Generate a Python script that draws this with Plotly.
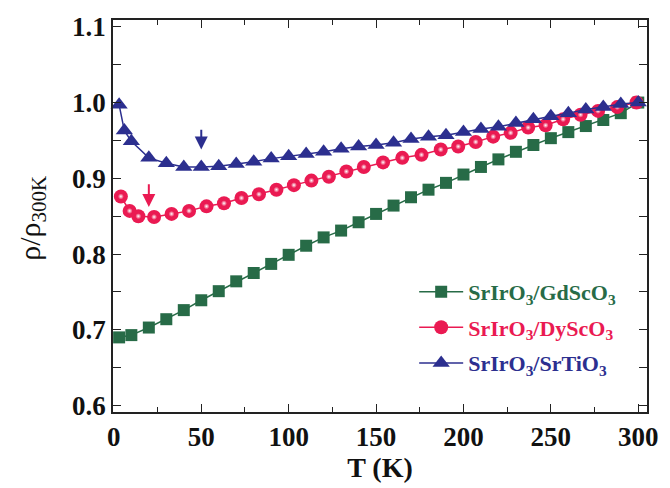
import plotly.graph_objects as go

# ---- data ----
T_gd = [3, 10, 20, 30, 40, 50, 60, 70, 80, 90, 100, 110, 120, 130, 140, 150,
        160, 170, 180, 190, 200, 210, 220, 230, 240, 250, 260, 270, 280, 290, 300]
rho_gd = [0.690, 0.693, 0.703, 0.714, 0.726, 0.739, 0.751, 0.764, 0.775, 0.787,
          0.799, 0.811, 0.822, 0.831, 0.842, 0.853, 0.864, 0.875, 0.885, 0.894,
          0.905, 0.915, 0.925, 0.935, 0.944, 0.953, 0.961, 0.969, 0.977, 0.986, 1.000]

T_dy = [4, 9, 14, 23, 33, 43, 53, 63, 73, 83, 93, 103, 113, 123, 133, 143, 154,
        165, 176, 187, 197, 207, 217, 227, 237, 247, 257, 267, 277, 288, 299]
rho_dy = [0.876, 0.857, 0.850, 0.849, 0.853, 0.857, 0.863, 0.867, 0.874, 0.879,
          0.885, 0.891, 0.897, 0.902, 0.909, 0.915, 0.921, 0.927, 0.931, 0.938,
          0.942, 0.948, 0.955, 0.960, 0.967, 0.970, 0.978, 0.984, 0.989, 0.994, 1.000]

T_st = [3, 6, 10, 20, 30, 40, 50, 60, 70, 80, 90, 100, 110, 120, 130, 140, 150,
        160, 170, 180, 190, 200, 210, 220, 230, 240, 250, 260, 270, 280, 290, 300]
rho_st = [0.997, 0.963, 0.949, 0.927, 0.920, 0.915, 0.915, 0.916, 0.919, 0.922,
          0.926, 0.929, 0.932, 0.935, 0.939, 0.942, 0.944, 0.947, 0.952, 0.955,
          0.957, 0.961, 0.965, 0.968, 0.973, 0.978, 0.982, 0.986, 0.991, 0.994,
          0.998, 1.000]

names = ["SrIrO<sub>3</sub>/GdScO<sub>3</sub>",
         "SrIrO<sub>3</sub>/DyScO<sub>3</sub>",
         "SrIrO<sub>3</sub>/SrTiO<sub>3</sub>"]

# arrows marking the resistivity minima
arrow_T = [50, 20]
arrow_tail = [0.966, 0.894]
arrow_tip = [0.938, 0.862]

x_ticks = [0, 50, 100, 150, 200, 250, 300]
y_ticks = [0.6, 0.7, 0.8, 0.9, 1.0, 1.1]
y_ticklabels = ["0.6", "0.7", "0.8", "0.9", "1.0", "1.1"]

GREEN = "#276b47"
RED = "#ea1a52"
BLUE = "#2c2f8f"

fig = go.Figure()

fig.add_trace(go.Scatter(
    x=T_gd, y=rho_gd, mode="lines+markers", cliponaxis=False,
    name=f'<span style="color:{GREEN}">{names[0]}</span>',
    line=dict(color=GREEN, width=1.5),
    marker=dict(symbol="square", size=12, color=GREEN, line=dict(width=0)),
    legendgroup="a"))

fig.add_trace(go.Scatter(
    x=T_dy, y=rho_dy, mode="lines+markers", cliponaxis=False,
    name=f'<span style="color:{RED}">{names[1]}</span>',
    line=dict(color=RED, width=1.5),
    marker=dict(symbol="circle", size=14, color=RED, line=dict(width=0)),
    legendgroup="b"))
# sphere highlight
fig.add_trace(go.Scatter(
    x=T_dy, y=rho_dy, mode="markers", cliponaxis=False, showlegend=False,
    hoverinfo="skip",
    marker=dict(symbol="circle", size=6, color=RED, line=dict(width=0),
                gradient=dict(type="radial", color="#ffffff")),
    legendgroup="b"))

fig.add_trace(go.Scatter(
    x=T_st, y=rho_st, mode="lines+markers", cliponaxis=False,
    name=f'<span style="color:{BLUE}">{names[2]}</span>',
    line=dict(color=BLUE, width=1.5),
    marker=dict(symbol="triangle-up", size=15, color=BLUE, line=dict(width=0)),
    legendgroup="c"))

arrow_colors = [BLUE, RED]
for t, tail, tip, c in zip(arrow_T, arrow_tail, arrow_tip, arrow_colors):
    fig.add_annotation(x=t, y=tip, ax=t, ay=tail, xref="x", yref="y",
                       axref="x", ayref="y", text="", showarrow=True,
                       arrowhead=2, arrowsize=1.3, arrowwidth=2, arrowcolor=c)

fig.add_annotation(text="ρ/ρ<sub>300K</sub>", textangle=-90, xref="paper", yref="paper",
                   x=-0.152, y=0.495, xanchor="center", yanchor="middle", showarrow=False,
                   font=dict(family="Liberation Serif", size=30, color="#111"))

axis_common = dict(
    showline=True, linecolor="#222", linewidth=1.5, mirror="allticks",
    ticks="inside", ticklen=8, tickwidth=1.3, tickcolor="#222",
    showgrid=False, zeroline=False, ticklabeloverflow="allow",
    tickfont=dict(family="Liberation Serif", size=27, color="#111", weight="bold"),
)

fig.update_xaxes(range=[-0.5, 305], tickvals=x_ticks,
                 minor=dict(ticks="inside", ticklen=5, tickwidth=1.3, tickcolor="#222", dtick=25, tick0=0),
                 title=dict(text="T (K)", standoff=4,
                            font=dict(family="Liberation Serif", size=28, color="#111", weight="bold")),
                 **axis_common)
fig.update_yaxes(range=[0.5915, 1.109], tickvals=y_ticks, ticktext=y_ticklabels,
                 minor=dict(ticks="inside", ticklen=8, tickwidth=1.3, tickcolor="#222", dtick=0.05, tick0=0.6),
                 **axis_common)

fig.update_layout(
    width=670, height=488,
    margin=dict(l=113, r=17, t=19, b=74),
    paper_bgcolor="white", plot_bgcolor="white",
    showlegend=True,
    legend=dict(x=0.564, y=0.36, xanchor="left", yanchor="top",
                bgcolor="rgba(0,0,0,0)", traceorder="grouped", tracegroupgap=4,
                itemwidth=44,
                font=dict(family="Liberation Serif", size=22, weight="bold")),
)

# remove the default page margin so the 670x488 figure fills the window exactly
fig.write_html("out.html", config={"displayModeBar": False},
               post_script="document.body.style.margin='0';document.body.style.overflow='hidden';")
